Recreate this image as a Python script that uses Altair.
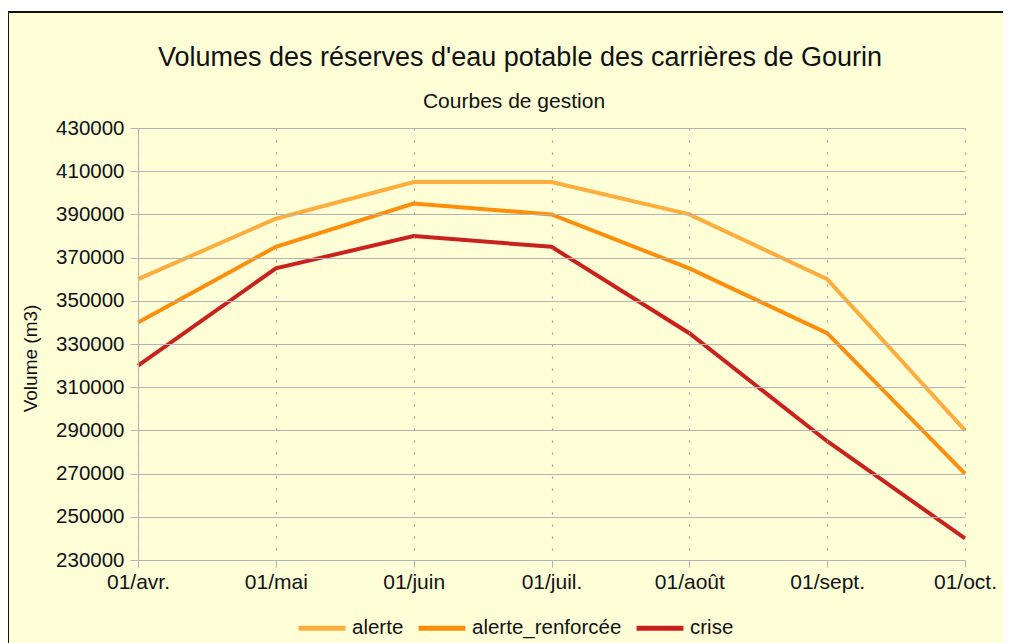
import altair as alt
import pandas as pd

dates = ["01/avr.", "01/mai", "01/juin", "01/juil.", "01/août", "01/sept.", "01/oct."]
alerte = [360000, 388000, 405000, 405000, 390000, 360000, 290000]
alerte_renforcee = [340000, 375000, 395000, 390000, 365000, 335000, 270000]
crise = [320000, 365000, 380000, 375000, 335000, 285000, 240000]
series_names = ["alerte", "alerte_renforcée", "crise"]
series_colors = ["#ffae3e", "#ff8f0a", "#c9211e"]
y_ticks = list(range(230000, 430001, 20000))

rows = []
for name, vals in zip(series_names, [alerte, alerte_renforcee, crise]):
    for d, v in zip(dates, vals):
        rows.append({"date": d, "serie": name, "volume": v})
df = pd.DataFrame(rows)

FONT = "Liberation Sans"
W, H = 827, 432

one = pd.DataFrame({"a": [0]})

frame = alt.Chart(one).mark_rect(fill="#ffffd7", stroke="#111111", strokeWidth=2).encode(
    x=alt.value(-130), y=alt.value(-116), x2=alt.value(W + 200), y2=alt.value(H + 200)
)

title = alt.Chart(one).mark_text(
    font=FONT, fontSize=27, color="#111111", align="center", baseline="alphabetic"
).encode(x=alt.value(382), y=alt.value(-62), text=alt.value("Volumes des réserves d'eau potable des carrières de Gourin"))

subtitle = alt.Chart(one).mark_text(
    font=FONT, fontSize=21, color="#111111", align="center", baseline="alphabetic"
).encode(x=alt.value(376), y=alt.value(-20), text=alt.value("Courbes de gestion"))

lines = alt.Chart(df).mark_line(strokeWidth=4).encode(
    x=alt.X("date:N", sort=dates, scale=alt.Scale(padding=0),
            axis=alt.Axis(title=None, labelAngle=0, labelFontSize=21, labelFont=FONT,
                          labelColor="#111111", grid=True, gridColor="#9a9a9a",
                          gridDash=[2, 10], gridWidth=1.2, tickSize=7, tickColor="#b3b3b3",
                          domainColor="#b3b3b3", labelPadding=4, zindex=1)),
    y=alt.Y("volume:Q", scale=alt.Scale(domain=[230000, 430000], nice=False, zero=False),
            axis=alt.Axis(values=y_ticks, format="d", title="Volume (m3)", titleFont=FONT,
                          titleFontSize=19, titleFontWeight="normal", titleColor="#111111",
                          titlePadding=15, titleY=230, titleAlign="center",
                          labelFontSize=20.5, labelFont=FONT,
                          labelColor="#111111", gridColor="#b3b3b3", gridWidth=1.2,
                          tickSize=8, tickColor="#b3b3b3", domainColor="#b3b3b3",
                          labelPadding=6, zindex=1)),
    color=alt.Color("serie:N", sort=series_names,
                    scale=alt.Scale(domain=series_names, range=series_colors),
                    legend=alt.Legend(title=None, orient="none", direction="horizontal",
                                      legendX=158, legendY=474, symbolType="stroke",
                                      symbolSize=2200, symbolStrokeWidth=5,
                                      labelFontSize=20.5, labelFont=FONT, labelColor="#111111",
                                      columnPadding=4, labelOffset=4, zindex=2)),
    order=alt.Order("serie:N"),
)

chart = alt.layer(frame, title, subtitle, lines).properties(
    width=W, height=H,
    autosize=alt.AutoSizeParams(type="none"),
    padding={"left": 130, "top": 120, "right": 38, "bottom": 83},
    background="white",
).configure_view(stroke=None)

chart.save("out.html", embed_options={"renderer": "svg", "actions": False})
